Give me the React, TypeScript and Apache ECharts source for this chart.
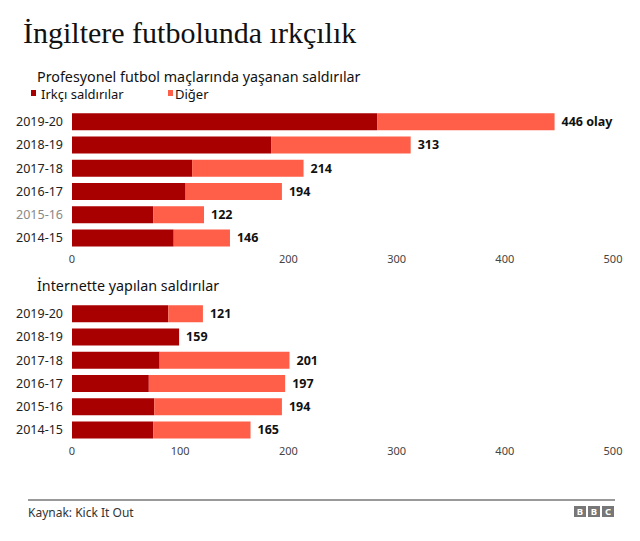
import React, { useEffect, useRef } from "react";
import * as echarts from "echarts";

const seasons = ["2019-20", "2018-19", "2017-18", "2016-17", "2015-16", "2014-15"];
const proRacist = [282, 184, 111, 105, 75, 94];
const proOther = [164, 129, 103, 89, 47, 52];
const proTotal = [446, 313, 214, 194, 122, 146];
const onlineRacist = [89, 99, 81, 71, 76, 75];
const onlineOther = [32, 0, 120, 126, 118, 90];
const onlineTotal = [121, 159, 201, 197, 194, 165];
const xTicks = [0, 100, 200, 300, 400, 500];

const DARK = "#a80000";
const LIGHT = "#ff5e48";
const SANS = "Noto Sans";

export default function App() {
  const ref = useRef<HTMLDivElement>(null);
  useEffect(() => {
    const chart = echarts.init(ref.current!, null, { renderer: "svg" });
    const xAxisBase = (gridIndex: number, hide100: boolean) => ({
      type: "value",
      gridIndex,
      min: xTicks[0],
      max: xTicks[xTicks.length - 1],
      interval: 100,
      axisLine: { show: false },
      axisTick: { show: false },
      splitLine: { show: false },
      axisLabel: {
        margin: 3,
        fontSize: 11,
        color: "#444",
        fontFamily: SANS,
        formatter: (v: number) => (hide100 && v === 100 ? "" : String(v)),
      },
    });
    const yAxisBase = (gridIndex: number, greyIdx: number) => ({
      type: "category",
      gridIndex,
      data: seasons,
      inverse: true,
      axisLine: { show: false },
      axisTick: { show: false },
      axisLabel: {
        margin: 9,
        fontSize: 12.5,
        color: "#222",
        fontFamily: SANS,
        formatter: (v: string, i: number) => (i === greyIdx ? `{g|${v}}` : v),
        rich: { g: { color: "#888", fontSize: 12.5, fontFamily: SANS } },
      },
    });
    const labelFor = (totals: number[], firstSuffix: string) => ({
      show: true,
      position: "right",
      distance: 7,
      fontSize: 12.5,
      fontWeight: "bold",
      color: "#111",
      fontFamily: SANS,
      formatter: (p: any) => `${totals[p.dataIndex]}${p.dataIndex === 0 ? firstSuffix : ""}`,
    });
    const txt = (left: number, top: number, text: string, fontSize: number, fill: string, extra: any = {}) => ({
      type: "text",
      left,
      top,
      style: { text, fontSize, fontFamily: SANS, lineHeight: fontSize + 1, fill, ...extra },
    });
    chart.setOption({
      animation: false,
      grid: [
        { left: 72, width: 541, top: 110, height: 139.5 },
        { left: 72, width: 541, top: 302, height: 139.5 },
      ],
      xAxis: [xAxisBase(0, true), xAxisBase(1, false)],
      yAxis: [yAxisBase(0, 4), yAxisBase(1, -1)],
      series: [
        { type: "bar", name: "Irkçı saldırılar", xAxisIndex: 0, yAxisIndex: 0, stack: "a", data: proRacist, barWidth: 17, itemStyle: { color: DARK } },
        { type: "bar", name: "Diğer", xAxisIndex: 0, yAxisIndex: 0, stack: "a", data: proOther, barWidth: 17, itemStyle: { color: LIGHT }, label: labelFor(proTotal, " olay") },
        { type: "bar", name: "Irkçı saldırılar", xAxisIndex: 1, yAxisIndex: 1, stack: "b", data: onlineRacist, barWidth: 17, itemStyle: { color: DARK } },
        { type: "bar", name: "Diğer", xAxisIndex: 1, yAxisIndex: 1, stack: "b", data: onlineOther, barWidth: 17, itemStyle: { color: LIGHT }, label: labelFor(onlineTotal, "") },
      ],
      graphic: [
        { type: "text", left: 23, top: 17, style: { text: "İngiltere futbolunda ırkçılık", fontSize: 30, fontFamily: "Liberation Serif", fill: "#111" } },
        txt(37, 68.5, "Profesyonel futbol maçlarında yaşanan saldırılar", 14.3, "#111"),
        { type: "rect", shape: { x: 31, y: 90, width: 5, height: 6 }, style: { fill: DARK } },
        txt(41, 86.5, "Irkçı saldırılar", 13, "#111"),
        { type: "rect", shape: { x: 168, y: 90, width: 5, height: 6 }, style: { fill: LIGHT } },
        txt(175, 86.5, "Diğer", 13, "#111"),
        txt(37, 278, "İnternette yapılan saldırılar", 14.3, "#111"),
        { type: "line", shape: { x1: 28, y1: 500, x2: 615, y2: 500 }, style: { stroke: "#999", lineWidth: 2 } },
        txt(28, 506, "Kaynak: Kick It Out", 12, "#333"),
        { type: "rect", shape: { x: 574, y: 506, width: 12, height: 11 }, style: { fill: "#777" } },
        { type: "rect", shape: { x: 588, y: 506, width: 12, height: 11 }, style: { fill: "#777" } },
        { type: "rect", shape: { x: 602, y: 506, width: 12, height: 11 }, style: { fill: "#777" } },
        { type: "text", x: 580, y: 511.5, style: { text: "B", fontSize: 9.5, fontWeight: "bold", fontFamily: SANS, fill: "#fff", align: "center", verticalAlign: "middle" } },
        { type: "text", x: 594, y: 511.5, style: { text: "B", fontSize: 9.5, fontWeight: "bold", fontFamily: SANS, fill: "#fff", align: "center", verticalAlign: "middle" } },
        { type: "text", x: 608, y: 511.5, style: { text: "C", fontSize: 9.5, fontWeight: "bold", fontFamily: SANS, fill: "#fff", align: "center", verticalAlign: "middle" } },
      ],
    });
    return () => chart.dispose();
  }, []);
  return <div ref={ref} style={{ position: "fixed", left: 0, top: 0, width: 640, height: 541, background: "#fff" }} />;
}
